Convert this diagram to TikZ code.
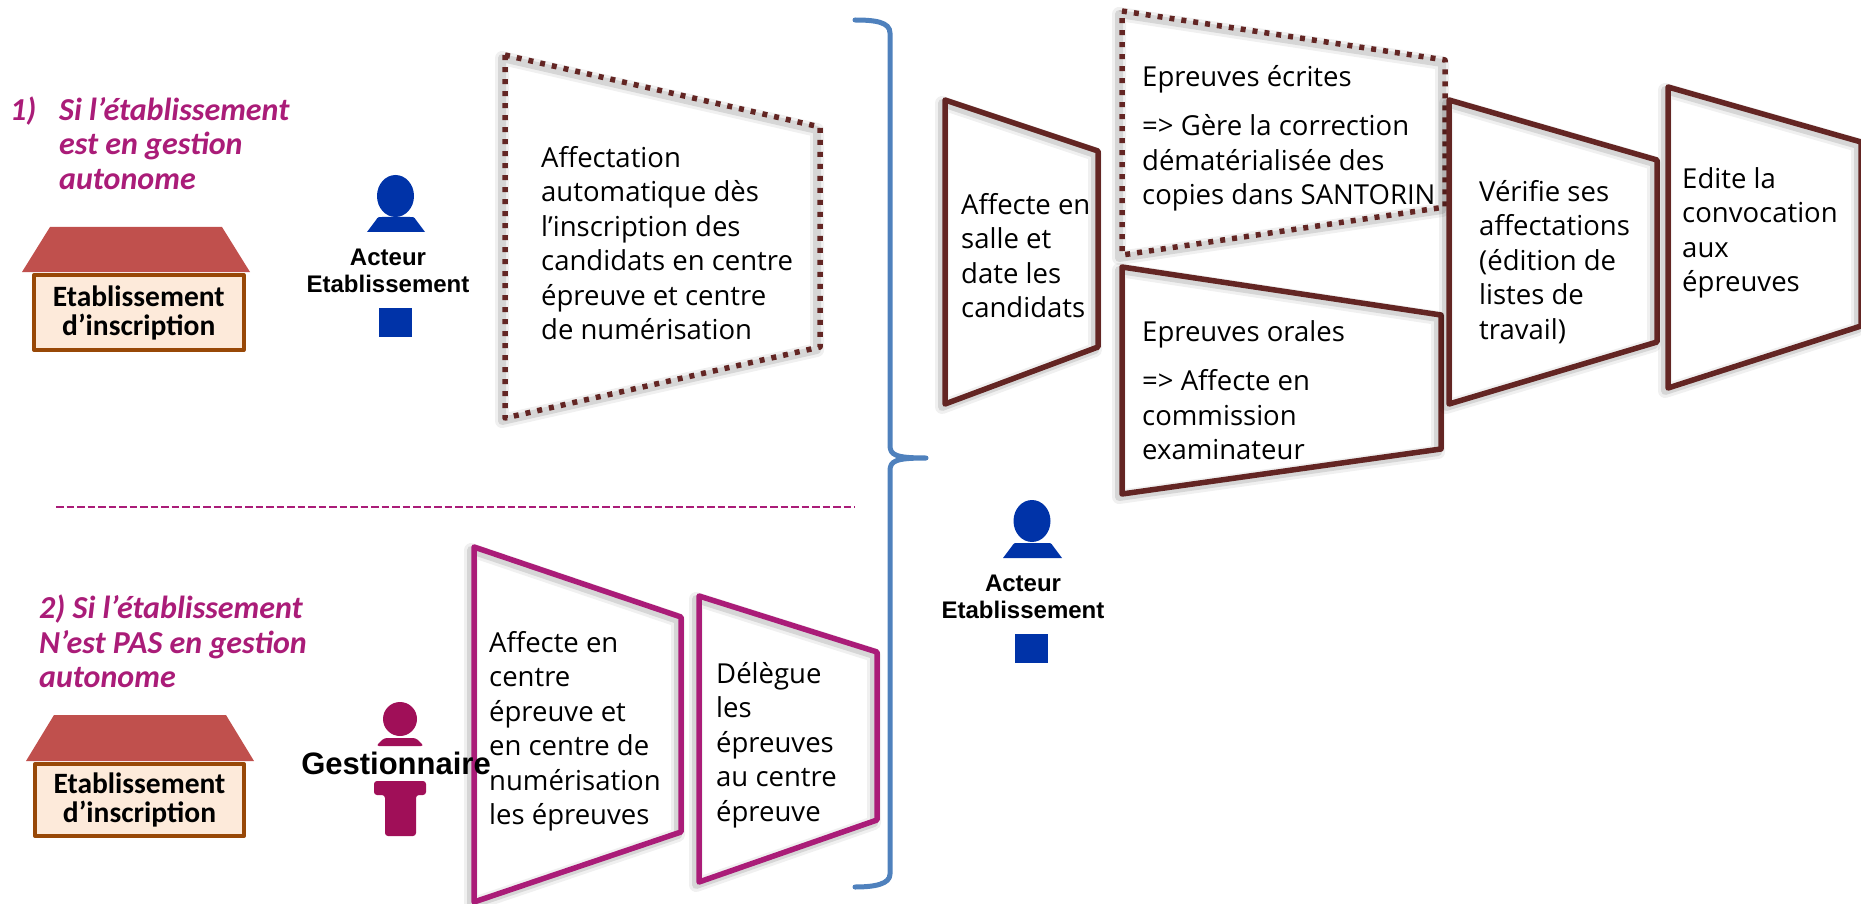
\documentclass[tikz,border=0pt]{standalone}
\usepackage{fontspec}
\setmainfont{Open Sans}
\setsansfont{Liberation Sans}
\newfontfamily\titlefont{Carlito}
\usepackage{tikz}

\definecolor{maroon}{HTML}{632523}
\definecolor{plum}{HTML}{AA1C78}
\definecolor{bracketblue}{HTML}{4F81BD}
\definecolor{actorblue}{HTML}{0033A8}
\definecolor{actorplum}{HTML}{A00F58}
\definecolor{roofred}{HTML}{C0504D}
\definecolor{housefill}{HTML}{FDEADA}
\definecolor{houseline}{HTML}{984807}

\begin{document}
\begin{tikzpicture}[x = 1pt, y = -1pt, line join = round,
                        shadewide/.style = {draw = black, solid, opacity = 0.06, line width = 14pt, transform canvas = {xshift = -3pt, yshift = -3pt}},
                        shadethin/.style = {draw = black, solid, opacity = 0.11, line width = 8pt, transform canvas = {xshift = -3pt, yshift = -3pt}},
                        shaded/.style = {preaction = {shadewide}, preaction = {shadethin}},
                        plain/.style = {shaded, draw = maroon, line width = 5.5pt},
                        dots/.style = {shaded, draw = maroon, line width = 5.5pt, dash pattern = on 5pt off 7pt},
                        pink/.style = {shaded, draw = plum, line width = 5.5pt},
                        boxtext/.style = {anchor = north west, inner sep = 0pt, align = left, font = \fontsize{27.5}{34.5}\selectfont},
                        heading/.style = {anchor = north west, inner sep = 0pt, align = left, text = plum, font = \titlefont\bfseries\itshape\fontsize{32}{34.5}\selectfont},
                        actor/.style = {inner sep = 0pt, align = center, font = \sffamily\bfseries\fontsize{24}{27}\selectfont},
                        roof/.style = {fill = roofred, draw = none},
                        house/.style = {fill = housefill, draw = houseline, line width = 4pt, anchor = north west, inner sep = 0pt, align = center, font = \titlefont\bfseries\fontsize{29.5}{29}\selectfont}]
      \useasboundingbox (0, 0) rectangle (1861, 904);

      % trapezes
      \draw [dots] (505, 55) -- (820, 127) -- (820, 347) -- (505, 418) -- cycle;
      \draw [pink] (474, 547) -- (681, 617) -- (681, 832) -- (474, 902) -- cycle;
      \draw [pink] (699, 596) -- (877, 652) -- (877, 820) -- (699, 882) -- cycle;
      \draw [plain] (945, 100) -- (1098, 151) -- (1098, 347) -- (945, 404) -- cycle;
      \draw [dots] (1122, 11) -- (1445, 60) -- (1445, 207) -- (1122, 255) -- cycle;
      \draw [plain] (1122, 267) -- (1441, 315) -- (1441, 449) -- (1122, 494) -- cycle;
      \draw [plain] (1449, 100) -- (1657, 160) -- (1657, 342) -- (1449, 404) -- cycle;
      \draw [plain] (1668, 87) -- (1861, 142) -- (1861, 326) -- (1668, 388) -- cycle;

      % accolade
      \draw [bracketblue, line width = 5pt, line cap = round] (855, 20) .. controls (875, 20) and (890, 22) .. (890, 33) -- (890, 445) .. controls (890, 455) and (895, 458) .. (926, 458) .. controls (895, 458) and (890, 461) .. (890, 471) -- (890, 874) .. controls (890, 884) and (875, 887) .. (855, 887);
      \draw [plum, line width = 2.5pt, dash pattern = on 7.5pt off 3pt] (56, 507) -- (855, 507);

      \node [boxtext] (affect) at (541, 146) {Affectation\\automatique dès\\l’inscription des\\candidats en centre\\épreuve et centre\\de numérisation};
      \node [boxtext] (centre) at (489, 631) {Affecte en\\centre\\épreuve et\\en centre de\\numérisation\\les épreuves};
      \node [boxtext] (delegue) at (716, 662) {Délègue\\les\\épreuves\\au centre\\épreuve};
      \node [boxtext] (salle) at (961, 193) {Affecte en\\salle et\\date les\\candidats};
      \node [boxtext] (ecrites) at (1142, 65) {Epreuves écrites\\[15pt]=> Gère la correction\\dématérialisée des\\copies dans SANTORIN};
      \node [boxtext] (orales) at (1142, 320) {Epreuves orales\\[15pt]=> Affecte en\\commission\\examinateur};
      \node [boxtext] (verifie) at (1479, 180) {Vérifie ses\\affectations\\(édition de\\listes de\\travail)};
      \node [boxtext] (edite) at (1682, 167) {Edite la\\convocation\\aux\\épreuves};

      \node [heading] (num1) at (10, 97) {1)};
      \node [heading] (titre1) at (59, 97) {Si l’établissement\\est en gestion\\autonome};
      \node [heading] (titre2) at (39, 595) {2) Si l’établissement\\N’est PAS en gestion\\autonome};

      % maisons
      \node [house, minimum width = 209.5pt, minimum height = 75pt] (ins1) at (32, 273) {Etablissement\\d’inscription};
      \fill [roof] (50, 227) -- (222, 227) -- (250, 272) -- (22, 272) -- cycle;
      \node [house, minimum width = 209pt, minimum height = 72pt] (ins2) at (33, 762) {Etablissement\\d’inscription};
      \fill [roof] (54, 715) -- (226, 715) -- (254, 761) -- (26, 761) -- cycle;

      % acteurs
      \fill [actorblue] (395.5, 196) ellipse (18.5 and 21);
      \fill [actorblue] (367, 232) -- (376, 220) .. controls (378, 217) .. (382, 217) -- (410, 217) .. controls (414, 217) .. (416, 220) -- (425, 232) -- cycle;
      \node [actor] (acteur1) at (388, 271) {Acteur\\Etablissement};
      \fill [actorblue] (379, 308) rectangle (412, 337);

      \fill [actorblue] (1032, 521) ellipse (18.5 and 21);
      \fill [actorblue] (1003, 558) -- (1012, 546) .. controls (1014, 543) .. (1018, 543) -- (1047, 543) .. controls (1051, 543) .. (1053, 546) -- (1062, 558) -- cycle;
      \node [actor] (acteur2) at (1023, 597) {Acteur\\Etablissement};
      \fill [actorblue] (1015, 634) rectangle (1048, 663);

      \fill [actorplum] (400, 719) circle (17);
      \fill [actorplum, rounded corners = 3pt] (376, 746) -- (384, 738) -- (416, 738) -- (424, 746) -- cycle;
      \fill [actorplum, rounded corners = 3pt] (374, 781) -- (426, 781) -- (426, 795) -- (416, 795) -- (416, 836) -- (385, 836) -- (385, 795) -- (374, 795) -- cycle;
      \node [actor, font = \sffamily\bfseries\fontsize{31}{34}\selectfont] (gest) at (396, 763) {Gestionnaire};
    \end{tikzpicture}
\end{document}
